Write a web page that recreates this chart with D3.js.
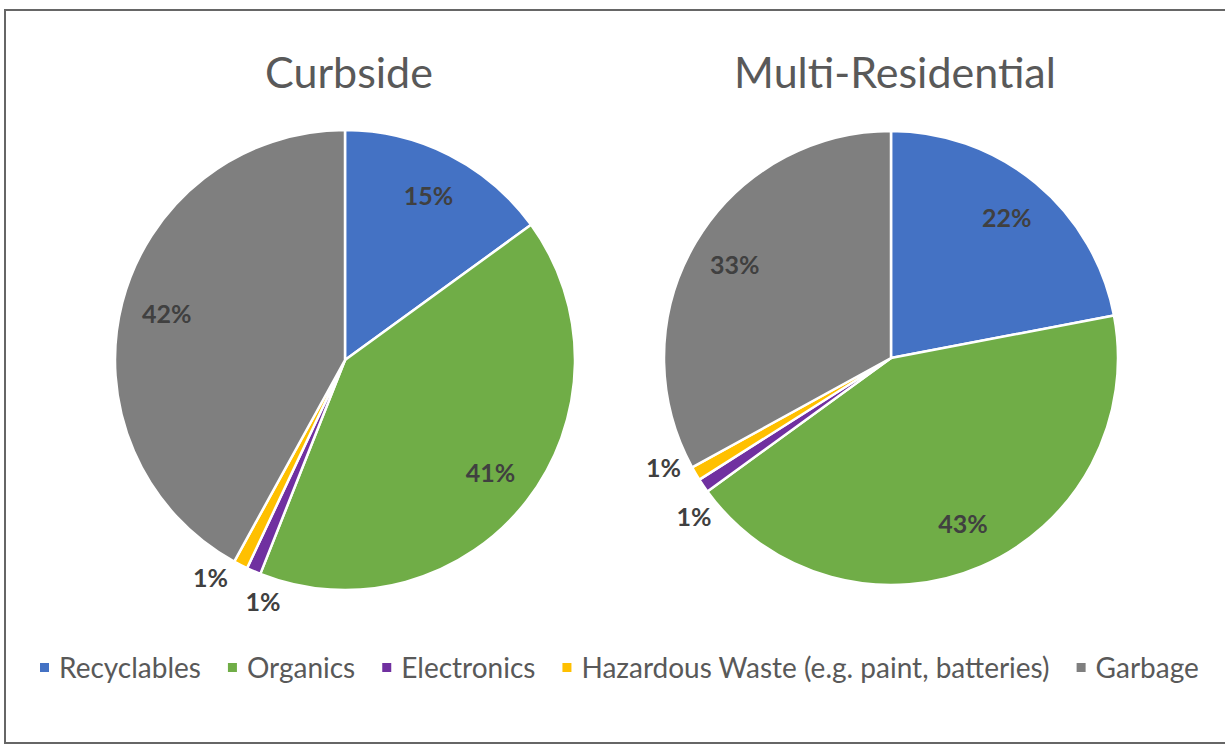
<!DOCTYPE html>
<html>
<head>
<meta charset="utf-8">
<script src="https://cdn.jsdelivr.net/npm/d3@7"></script>
<style>
  html, body { margin: 0; padding: 0; background: #fff; }
  svg { display: block; }
</style>
</head>
<body>
<svg id="chart" width="1225" height="746"></svg>
<script>
const categories = ["Recyclables", "Organics", "Electronics", "Hazardous Waste (e.g. paint, batteries)", "Garbage"];
const colors = ["#4472C4", "#70AD47", "#7030A0", "#FFC000", "#7F7F7F"];
const curbsideValues = [15, 41, 1, 1, 42];
const multiValues = [22, 43, 1, 1, 33];
const chartTitles = ["Curbside", "Multi-Residential"];

const W = 1225, H = 746;
const svg = d3.select("#chart");
const FONT = "Lato, 'Open Sans', sans-serif";

// frame
svg.append("rect").attr("x", 5).attr("y", 10).attr("width", W + 10).attr("height", 733)
  .attr("fill", "none").attr("stroke", "#666").attr("stroke-width", 2);

const color = d3.scaleOrdinal().domain(categories).range(colors);

const pies = [
  { title: chartTitles[0], values: curbsideValues, cx: 345, cy: 360, r: 230 },
  { title: chartTitles[1], values: multiValues, cx: 891, cy: 358, r: 227 }
];

const pie = d3.pie().sort(null).value(d => d.value);

pies.forEach(p => {
  const data = categories.map((c, i) => ({ cat: c, value: p.values[i] }));
  const total = d3.sum(data, d => d.value);
  const arcs = pie(data);
  const g = svg.append("g").attr("transform", `translate(${p.cx},${p.cy})`);
  const arc = d3.arc().innerRadius(0).outerRadius(p.r);
  g.selectAll("path").data(arcs).join("path")
    .attr("d", arc)
    .attr("fill", d => color(d.data.cat))
    .attr("stroke", "#fff").attr("stroke-width", 2.5).attr("stroke-linejoin", "round");

  // labels
  const inside = arcs.filter(d => d.data.value / total >= 0.05);
  const outside = arcs.filter(d => d.data.value / total < 0.05);
  const labelArc = d3.arc().innerRadius(p.r * 0.8).outerRadius(p.r * 0.8);
  g.selectAll("text.in").data(inside).join("text")
    .attr("class", "in")
    .attr("transform", d => `translate(${labelArc.centroid(d)})`)
    .attr("text-anchor", "middle").attr("dy", "0.35em")
    .attr("font-family", FONT).attr("font-weight", "bold").attr("font-size", 25)
    .attr("fill", "#404040")
    .text(d => Math.round(d.data.value / total * 100) + "%");

  // outside labels: spread around the common mid angle
  const midAll = d3.mean(outside, d => (d.startAngle + d.endAngle) / 2);
  const spread = 6.5 * Math.PI / 180;
  const n = outside.length;
  outside.forEach((d, i) => {
    const a = midAll + (i - (n - 1) / 2) * 2 * spread;
    const rr = p.r + 26;
    g.append("text")
      .attr("x", rr * Math.sin(a)).attr("y", -rr * Math.cos(a))
      .attr("text-anchor", "middle").attr("dy", "0.35em")
      .attr("font-family", FONT).attr("font-weight", "bold").attr("font-size", 25)
      .attr("fill", "#404040")
      .text(Math.round(d.data.value / total * 100) + "%");
  });

  svg.append("text")
    .attr("x", p.cx + 4).attr("y", 88)
    .attr("text-anchor", "middle")
    .attr("font-family", FONT).attr("font-size", 43)
    .attr("fill", "#595959")
    .text(p.title);
});

// legend
const legend = svg.append("g").attr("transform", "translate(40,668)");
let x = 0;
categories.forEach((c, i) => {
  const item = legend.append("g").attr("transform", `translate(${x},0)`);
  item.append("rect").attr("x", 0).attr("y", -5).attr("width", 9).attr("height", 9).attr("fill", colors[i]);
  const t = item.append("text").attr("x", 19).attr("y", 0).attr("dy", "0.35em")
    .attr("font-family", FONT).attr("font-size", 28).attr("fill", "#595959").text(c);
  x += 19 + t.node().getComputedTextLength() + 27;
});
</script>
</body>
</html>
